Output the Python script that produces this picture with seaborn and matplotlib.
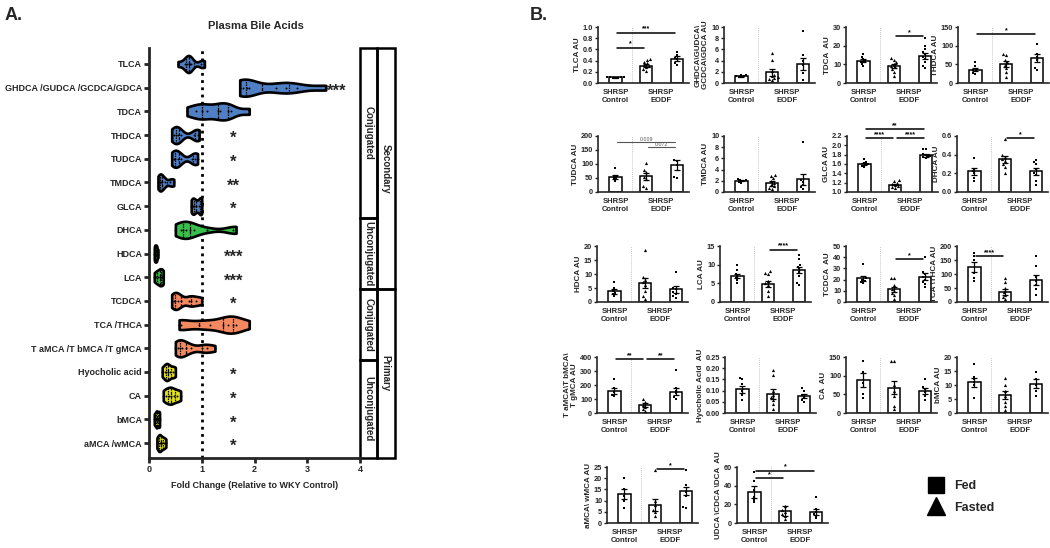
import warnings
import matplotlib
matplotlib.use("Agg")
import matplotlib.pyplot as plt
from matplotlib.patches import Rectangle
from matplotlib.lines import Line2D
import pandas as pd
import seaborn as sns

warnings.filterwarnings("ignore")

W, H = 1050, 548

# ---------------------------------------------------------------------------
# Panel A data : fold change relative to WKY control
# ---------------------------------------------------------------------------
acids = ["TLCA", "GHDCA /GUDCA /GCDCA/GDCA", "TDCA", "THDCA", "TUDCA", "TMDCA",
         "GLCA", "DHCA", "HDCA", "LCA", "TCDCA", "TCA /THCA",
         "T aMCA /T bMCA /T gMCA", "Hyocholic acid", "CA", "bMCA", "aMCA /wMCA"]
acid_colors = ["#4f7fc4"] * 7 + ["#39c04a"] * 3 + ["#f4895f"] * 3 + ["#e3e31a"] * 4
fold_change = [
    [0.55, 0.68, 0.72, 0.75, 0.78, 0.80, 0.98, 1.05],
    [1.72, 1.78, 1.85, 1.90, 2.40, 2.60, 2.80, 3.35],
    [0.72, 0.90, 1.00, 1.10, 1.30, 1.35, 1.50, 1.55, 1.90],
    [0.43, 0.48, 0.52, 0.55, 0.60, 0.85, 0.92, 0.95],
    [0.43, 0.47, 0.50, 0.55, 0.60, 0.82, 0.88, 0.92],
    [0.17, 0.20, 0.22, 0.25, 0.30, 0.40, 0.47],
    [0.80, 0.83, 0.86, 0.90, 0.95, 0.98, 1.00],
    [0.50, 0.60, 0.65, 0.70, 0.78, 0.85, 1.10, 1.60, 1.65],
    [0.10, 0.11, 0.12, 0.13, 0.14, 0.15, 0.17],
    [0.10, 0.14, 0.17, 0.20, 0.22, 0.25, 0.27],
    [0.43, 0.47, 0.50, 0.55, 0.60, 0.75, 0.80, 0.90, 1.00],
    [0.57, 0.60, 0.95, 1.15, 1.40, 1.50, 1.60, 1.65, 1.90],
    [0.50, 0.55, 0.58, 0.62, 0.70, 0.80, 1.00, 1.10, 1.25],
    [0.25, 0.30, 0.33, 0.36, 0.40, 0.45, 0.50],
    [0.27, 0.33, 0.38, 0.42, 0.47, 0.53, 0.60],
    [0.10, 0.12, 0.14, 0.15, 0.17, 0.19, 0.20],
    [0.15, 0.18, 0.20, 0.22, 0.25, 0.28, 0.32],
]
stars = ["", "***", "", "*", "*", "**", "*", "", "***", "***", "*", "", "",
         "*", "*", "*", "*"]

# bracket boxes on the right: (label, first row, last row)
class_inner = [("Conjugated", 0, 6), ("Unconjugated", 7, 9),
               ("Conjugated", 10, 12), ("Unconjugated", 13, 16)]
class_outer = [("Secondary", 0, 9), ("Primary", 10, 16)]

# ---------------------------------------------------------------------------
# Panel B data : SHRSP Control / EODF (fasted) / EODF (fed)
# ---------------------------------------------------------------------------
groups = ["Control", "EODF fasted", "EODF fed"]
bar_ylabels = ["TLCA AU", "GHDCA\\GUDCA\\\nGCDCA\\GDCA AU", "TDCA  AU", "THDCA AU",
               "TUDCA AU", "TMDCA AU", "GLCA AU", "DHCA AU",
               "HDCA AU", "LCA AU", "TCDCA  AU", "TCA \\THCA AU",
               "T aMCA\\T bMCA\\\nT gMCA AU", "Hyocholic Acid  AU", "CA  AU", "bMCA AU",
               "aMCA\\ wMCA AU", "UDCA \\CDCA \\DCA  AU"]
bar_yticks = [[0, 0.2, 0.4, 0.6, 0.8, 1.0], [0, 2, 4, 6, 8, 10], [0, 10, 20, 30],
              [0, 50, 100, 150], [0, 50, 100, 150, 200], [0, 2, 4, 6, 8, 10],
              [1.0, 1.2, 1.4, 1.6, 1.8, 2.0, 2.2], [0.0, 0.2, 0.4, 0.6],
              [0, 5, 10, 15, 20], [0, 5, 10, 15], [0, 10, 20, 30, 40, 50],
              [0, 50, 100, 150, 200], [0, 100, 200, 300, 400],
              [0.00, 0.05, 0.10, 0.15, 0.20, 0.25], [0, 50, 100, 150], [0, 5, 10, 15, 20],
              [0, 5, 10, 15, 20, 25], [0, 20, 40, 60]]
bar_means = [[0.10, 0.31, 0.43], [1.2, 1.9, 3.4], [11.8, 9.0, 14.7], [36, 52, 67],
             [54, 56, 97], [2.0, 1.6, 2.3], [1.60, 1.16, 1.79], [0.22, 0.35, 0.22],
             [3.8, 6.8, 4.5], [7.0, 4.9, 8.6], [21, 11.5, 22.5], [125, 37, 78],
             [158, 55, 152], [0.105, 0.085, 0.075], [88, 68, 58], [11, 6.5, 10.4],
             [12.8, 8, 14.3], [33, 13, 12]]
bar_sems = [[0.005, 0.025, 0.045], [0.08, 0.6, 1.15], [0.8, 1.0, 1.6], [4, 8, 10],
            [7, 13, 17], [0.12, 0.45, 1.0], [0.025, 0.02, 0.03], [0.035, 0.035, 0.035],
            [0.8, 1.9, 1.2], [0.6, 0.75, 0.9], [2.5, 2.2, 3.2], [19, 11, 18],
            [20, 13, 25], [0.017, 0.022, 0.008], [18, 17, 8], [1.6, 1.4, 1.6],
            [2.3, 2.6, 1.9], [6.5, 5, 3.5]]
bar_points = [
    [[0.085, 0.09, 0.095, 0.10, 0.10, 0.105, 0.11], [0.22, 0.25, 0.28, 0.30, 0.32, 0.35, 0.38, 0.41, 0.43], [0.32, 0.36, 0.42, 0.45, 0.50, 0.55]],
    [[1.0, 1.1, 1.2, 1.3, 1.4, 1.45], [0.5, 0.7, 0.9, 1.0, 1.2, 1.5, 2.2, 4.1, 5.3], [0.6, 1.8, 3.2, 4.0, 5.0, 9.2]],
    [[9, 10, 11, 11.5, 12, 13, 14, 15.5], [4, 6, 7.5, 8.5, 9, 10, 11, 12.5, 13.5], [8, 9, 11, 13, 14, 15.5, 16.5, 18, 20, 24]],
    [[25, 28, 32, 35, 38, 45, 55], [15, 30, 40, 48, 55, 62, 75, 78], [35, 40, 62, 70, 78, 105]],
    [[38, 45, 50, 55, 58, 85], [15, 20, 45, 55, 70, 80, 105], [50, 55, 95, 110, 115]],
    [[1.6, 1.8, 2.0, 2.1, 2.2, 2.3], [0.5, 0.8, 1.0, 1.3, 1.6, 2.0, 2.5, 2.9, 3.0], [0.5, 0.9, 1.3, 1.8, 2.2, 8.9]],
    [[1.53, 1.56, 1.58, 1.60, 1.62, 1.65, 1.70], [1.08, 1.10, 1.12, 1.15, 1.17, 1.20, 1.24, 1.26], [1.73, 1.75, 1.77, 1.78, 1.80, 1.82, 1.92, 1.92]],
    [[0.12, 0.15, 0.20, 0.22, 0.25, 0.36], [0.20, 0.27, 0.30, 0.33, 0.35, 0.38, 0.40, 0.57], [0.08, 0.12, 0.18, 0.20, 0.25, 0.30, 0.32, 0.34]],
    [[2, 2.8, 3.3, 4, 5, 7], [1, 2, 4, 6, 7, 8, 9, 18.5], [1.5, 2, 3, 3.5, 4.5, 5, 10.7]],
    [[5, 6, 6.5, 7, 7.5, 8.5, 9.8], [1.5, 3, 4.5, 5, 5.5, 7.5, 7.8, 8.2], [4.5, 5, 7, 8, 8.8, 9.5, 10, 11.5, 12.5]],
    [[17, 18, 19, 20, 21, 34], [3, 6, 8, 10, 12, 15, 21, 21], [13, 16, 18, 20, 22, 25, 27, 40]],
    [[75, 85, 105, 150, 165, 175], [10, 18, 25, 35, 50, 70, 85], [25, 45, 60, 75, 90, 130, 165]],
    [[120, 130, 150, 180, 240], [15, 30, 45, 60, 80, 100], [100, 115, 140, 160, 180, 310]],
    [[0.06, 0.08, 0.10, 0.13, 0.15, 0.155], [0.02, 0.04, 0.06, 0.07, 0.08, 0.10, 0.17, 0.19], [0.05, 0.06, 0.07, 0.08, 0.10, 0.11]],
    [[40, 50, 80, 110, 140], [10, 20, 45, 60, 75, 140, 140], [35, 45, 55, 65, 70, 90]],
    [[5.5, 10, 11, 12, 13, 17.5], [1, 2.5, 4, 6, 8, 10, 12.5], [6, 8, 10, 12, 14.5]],
    [[6.5, 10, 12, 15, 20], [3, 5, 6, 8, 10, 23.5], [6.5, 7, 12, 14, 17, 23.5]],
    [[22, 25, 28, 35, 45, 55], [4, 8, 10, 12, 14, 18], [5, 8, 10, 12, 15, 28]],
]
# significance bars: (panel, group i, group j, y, label)
bar_sig = [(0, 0, 1, 0.63, "*"), (0, 0, 2, 0.90, "***"), (2, 1, 2, 25, "*"),
           (3, 0, 2, 130, "*"), (4, 0, 2, 178, "0.009"), (4, 1, 2, 160, "0.072"),
           (6, 0, 1, 2.15, "****"), (6, 1, 2, 2.15, "****"), (6, 0, 2, 2.35, "**"),
           (7, 1, 2, 0.58, "*"), (9, 1, 2, 14, "****"), (10, 1, 2, 38, "*"),
           (11, 0, 1, 165, "****"), (12, 0, 1, 385, "**"), (12, 1, 2, 385, "**"),
           (16, 1, 2, 24, "*"), (17, 0, 1, 48, "*"), (17, 0, 2, 56, "*")]

# layout of the small panels (pixels)
panel_left = [598, 724, 846, 958,
              598, 724, 847, 957,
              597, 720, 846, 957,
              597, 725, 846, 957,
              607, 737]
row_bottom = [83, 192, 302, 413, 523]

sns.set_style("ticks")
plt.rcParams['font.family'] = ['Liberation Sans', 'DejaVu Sans']
plt.rcParams['font.weight'] = 'bold'
plt.rcParams['axes.labelweight'] = 'bold'

fig = plt.figure(figsize=(W / 100, H / 100), dpi=100)

###############################################################################
# Panel A - violins
###############################################################################
df_a = pd.DataFrame({'acid': [a for a, v in zip(acids, fold_change) for _ in v],
                     'fc': [x for v in fold_change for x in v]})

ax = fig.add_axes([149 / W, 1 - 458 / H, 211 / W, 410 / H])
ax.axvline(1, color="black", lw=2, ls=(0, (1, 1.6)), zorder=0)
sns.violinplot(data=df_a, x="fc", y="acid", hue="acid", order=acids, hue_order=acids,
               palette=acid_colors, orient="h", cut=0, density_norm="width",
               width=0.72, bw_adjust=0.6, inner="quart",
               inner_kws={"linewidth": 0.9, "color": "black"},
               linewidth=1.9, linecolor="black", saturation=1, legend=False, ax=ax)
sns.stripplot(data=df_a, x="fc", y="acid", order=acids, jitter=False, size=1.4,
              color="black", ax=ax)

for i, s in enumerate(stars):
    if s:
        xs = 3.55 if i == 1 else 1.6
        ax.text(xs, i + 0.15, s, ha="center", va="center", fontsize=12, weight="bold")

ax.set_xlim(0, 4)
ax.set_ylim(16.63, -0.675)
ax.set_xticks([0, 1, 2, 3, 4])
ax.set_xlabel("Fold Change (Relative to WKY Control)", fontsize=6.5, weight="bold", labelpad=5)
ax.set_ylabel("")
ax.tick_params(axis="both", width=2, length=3.5, labelsize=6.5, pad=1.5)
for lbl in ax.get_xticklabels() + ax.get_yticklabels():
    lbl.set_fontweight("bold")
sns.despine(ax=ax)
ax.spines["left"].set_linewidth(2)
ax.spines["bottom"].set_linewidth(2)

edge_top, edge_bot = -0.675, 16.63


def row_edge(r, first):
    if first:
        return edge_top if r == 0 else r - 0.5
    return edge_bot if r == 16 else r + 0.5


for name, r0, r1 in class_inner:
    y0, y1 = row_edge(r0, True), row_edge(r1, False)
    ax.add_patch(Rectangle((4.0, y0), 0.32, y1 - y0, fill=False, lw=1.8,
                           ec="black", clip_on=False))
    ax.text(4.16, (y0 + y1) / 2, name, rotation=-90, ha="center", va="center",
            fontsize=7, weight="bold")
for name, r0, r1 in class_outer:
    y0, y1 = row_edge(r0, True), row_edge(r1, False)
    ax.add_patch(Rectangle((4.32, y0), 0.34, y1 - y0, fill=False, lw=1.8,
                           ec="black", clip_on=False))
    ax.text(4.49, (y0 + y1) / 2, name, rotation=-90, ha="center", va="center",
            fontsize=7, weight="bold")

fig.text(256 / W, 1 - 26 / H, "Plasma Bile Acids", ha="center", va="center",
         fontsize=8, weight="bold")
fig.text(5 / W, 1 - 16 / H, "A.", ha="left", va="center", fontsize=13, weight="bold")
fig.text(530 / W, 1 - 16 / H, "B.", ha="left", va="center", fontsize=13, weight="bold")

###############################################################################
# Panel B - bar charts
###############################################################################
for k, ylab in enumerate(bar_ylabels):
    r = k // 4
    axb = fig.add_axes([panel_left[k] / W, 1 - row_bottom[r] / H, 91 / W, 56 / H])
    sns.barplot(x=groups, y=bar_means[k], order=groups, color="white",
                edgecolor="black", linewidth=1.1, width=0.4, errorbar=None, ax=axb)
    axb.errorbar(range(3), bar_means[k], yerr=bar_sems[k], fmt="none", ecolor="black",
                 elinewidth=0.9, capsize=2, capthick=0.9, zorder=4)
    pts = pd.DataFrame({'group': [g for g, v in zip(groups, bar_points[k]) for _ in v],
                        'value': [x for v in bar_points[k] for x in v]})
    fed = pts[pts.group != "EODF fasted"]
    fasted = pts[pts.group == "EODF fasted"]
    sns.swarmplot(data=fed, x="group", y="value", order=groups, marker="s", size=1.9,
                  color="black", ax=axb, zorder=5)
    sns.swarmplot(data=fasted, x="group", y="value", order=groups, marker="^", size=2.3,
                  color="black", ax=axb, zorder=5)
    axb.axvline(0.55, color="#c8c8c8", lw=0.7, ls=(0, (1, 1)), zorder=0)

    ticks = bar_yticks[k]
    axb.set_ylim(ticks[0], ticks[-1])
    axb.set_yticks(ticks)
    axb.set_xlim(-0.57, 2.4)
    axb.set_xticks([0, 1.5])
    axb.set_xticklabels(["SHRSP\nControl", "SHRSP\nEODF"], fontsize=5.5, weight="bold",
                        linespacing=1.3)
    axb.set_xlabel("")
    axb.set_ylabel(ylab, fontsize=5.8, weight="bold", labelpad=1.5, linespacing=1.0)
    axb.tick_params(axis="x", length=0, pad=4)
    axb.tick_params(axis="y", length=2.5, width=1, labelsize=5.3, pad=1)
    for lbl in axb.get_yticklabels():
        lbl.set_fontweight("bold")
    sns.despine(ax=axb)
    axb.spines["left"].set_linewidth(1.2)
    axb.spines["bottom"].set_linewidth(1.2)

    for p, i, j, y, lab in bar_sig:
        if p != k:
            continue
        small = lab[0].isdigit()
        axb.plot([i + 0.06, j - 0.06], [y, y], color="#555555" if small else "black",
                 lw=0.8 if small else 1.1, clip_on=False, zorder=6)
        axb.text((i + j) / 2, y, lab, ha="center", va="bottom",
                 fontsize=3.8 if small else 5, weight="normal" if small else "bold",
                 color="#555555" if small else "black", clip_on=False)

# legend for the feeding state markers
handles = [Line2D([], [], marker="s", ls="none", color="black", markersize=11),
           Line2D([], [], marker="^", ls="none", color="black", markersize=13)]
fig.legend(handles, ["Fed", "Fasted"], loc="center left",
           bbox_to_anchor=(912 / W, 1 - 497 / H), frameon=False,
           prop={"size": 9, "weight": "bold"}, handletextpad=0.5, labelspacing=0.75)

fig.savefig("out.png", dpi=100)
